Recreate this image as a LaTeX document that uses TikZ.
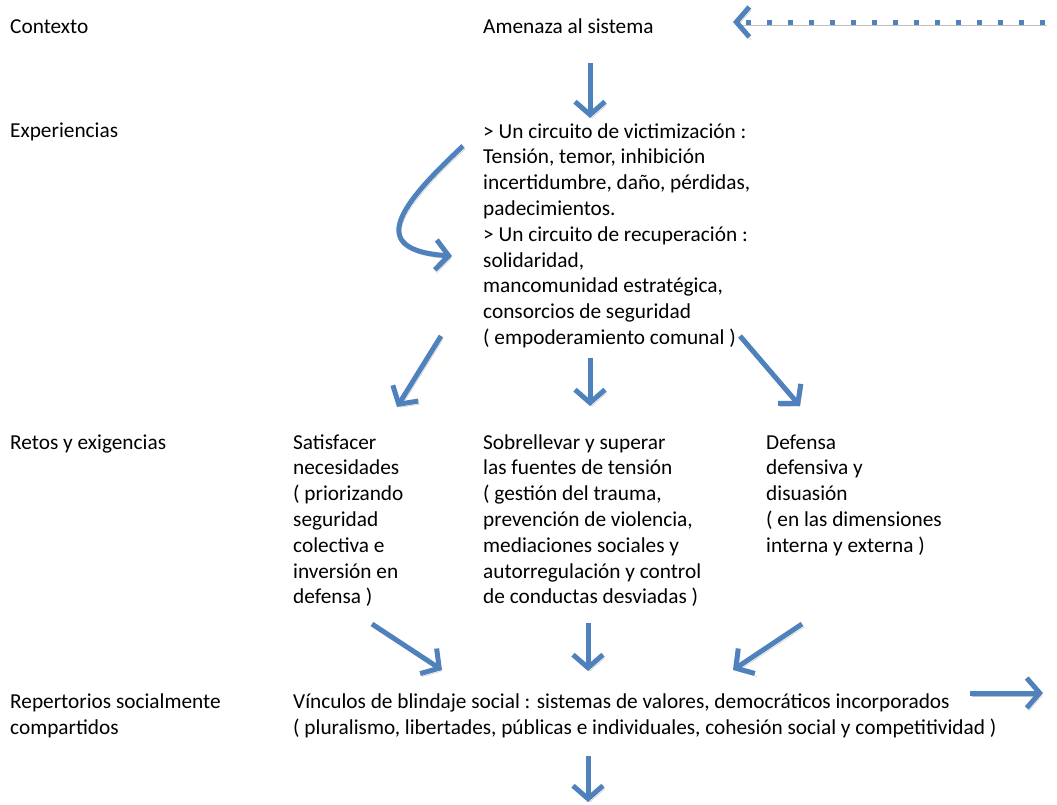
\documentclass[tikz,border=0pt]{standalone}
\usepackage{fontspec}
\setmainfont{Carlito}
\usetikzlibrary{arrows.meta}
\definecolor{azulflecha}{HTML}{4F81BD}
\tikzset{
  texto/.style={anchor=base west, inner sep=0pt, align=left,
    font=\fontsize{21.3}{25.8}\selectfont},
  flecha/.style={draw=azulflecha, line width=5pt,
    -{Straight Barb[length=13pt,width=30pt]},
    preaction={draw=black!25, transform canvas={shift={(2pt,-3pt)}}}},
}
\begin{document}
\begin{tikzpicture}[x=1pt,y=-1pt]
        \useasboundingbox (0,0) rectangle (1057,804);

        % nodos de varias lineas: base de la ultima linea
        \begin{scope}[every node/.style={texto}]
          \node (contexto) at (10,33)  {Contexto};
          \node (amenaza)  at (483,33) {Amenaza al sistema};
          \node (exper)    at (10,137) {Experiencias};
          \node (circuito) at (483,344.5) {> Un circuito de victimización :\\
            Tensión, temor, inhibición\\
            incertidumbre, daño, pérdidas,\\
            padecimientos.\\
            > Un circuito de recuperación :\\
            solidaridad,\\
            mancomunidad estratégica,\\
            consorcios de seguridad\\
            ( empoderamiento comunal )};
          \node (retos)    at (10,449) {Retos y exigencias};
          \node (satisf)   at (293,603.8) {Satisfacer\\ necesidades\\ ( priorizando\\
            seguridad\\ colectiva e\\ inversión en\\ defensa )};
          \node (sobrell)  at (483,603.8) {Sobrellevar y superar\\
            las fuentes de tensión\\
            ( gestión del trauma,\\
            prevención de violencia,\\
            mediaciones sociales y\\
            autorregulación y control\\
            de conductas desviadas )};
          \node (defensa)  at (766,552.2) {Defensa\\ defensiva y\\ disuasión\\
            ( en las dimensiones\\ interna y externa )};
          \node (repert)   at (10,734) {Repertorios socialmente\\ compartidos};
          \node (vinculos) at (293,734) {Vínculos de blindaje social : sistemas de valores, democráticos incorporados\\
            ( pluralismo, libertades, públicas e individuales, cohesión social y competitividad )};
        \end{scope}

        % extremos de las flechas
        \coordinate (f0a) at (1045,22);  \coordinate (f0b) at (733,22);
        \coordinate (f1a) at (590,63);   \coordinate (f1b) at (590,118);
        \coordinate (f2a) at (463,146);  \coordinate (f2b) at (452,256);
        \coordinate (f3a) at (441,336);  \coordinate (f3b) at (397,407);
        \coordinate (f4a) at (590,358);  \coordinate (f4b) at (590,406);
        \coordinate (f5a) at (740,336);  \coordinate (f5b) at (800,406);
        \coordinate (f6a) at (372,624);  \coordinate (f6b) at (442,670);
        \coordinate (f7a) at (588,623);  \coordinate (f7b) at (588,671);
        \coordinate (f8a) at (802,624);  \coordinate (f8b) at (733,670);
        \coordinate (f9a) at (970,693);  \coordinate (f9b) at (1043,693);
        \coordinate (f10a) at (588,756); \coordinate (f10b) at (588,802);

        \draw[flecha, dash pattern=on 5pt off 16pt] (f0a) -- (f0b);
        \draw[flecha] (f1a) -- (f1b);
        \draw[flecha] (f2a) .. controls (400,205) and (365,250) .. (f2b);
        \draw[flecha] (f3a) -- (f3b);
        \draw[flecha] (f4a) -- (f4b);
        \draw[flecha] (f5a) -- (f5b);
        \draw[flecha] (f6a) -- (f6b);
        \draw[flecha] (f7a) -- (f7b);
        \draw[flecha] (f8a) -- (f8b);
        \draw[flecha] (f9a) -- (f9b);
        \draw[flecha] (f10a) -- (f10b);

      \end{tikzpicture}
\end{document}
